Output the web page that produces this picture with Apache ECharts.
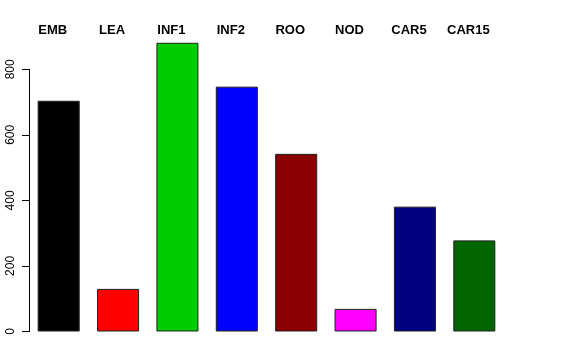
<!DOCTYPE html>
<html>
<head>
<meta charset="utf-8">
<script src="https://cdn.jsdelivr.net/npm/echarts@6/dist/echarts.min.js"></script>
<style>
html,body{margin:0;padding:0;background:#fff;}
#c{width:576px;height:360px;}
</style>
</head>
<body>
<div id="c"></div>
<script>
const categories = ['EMB', 'LEA', 'INF1', 'INF2', 'ROO', 'NOD', 'CAR5', 'CAR15'];
const values = [704, 130, 881, 747, 542, 69, 381, 278];
const yTicks = [0, 200, 400, 600, 800];
const barColors = ['#000000', '#FF0000', '#00CD00', '#0000FF', '#8B0000', '#FF00FF', '#000080', '#006400'];

const chart = echarts.init(document.getElementById('c'), null, {renderer: 'canvas'});
const font = 'Liberation Sans, Arial, Helvetica, sans-serif';
chart.setOption({
  animation: false,
  backgroundColor: '#ffffff',
  grid: {left: 29, top: 69.3, width: 475, height: 262.2, containLabel: false},
  xAxis: [{
    type: 'category',
    data: categories,
    position: 'bottom',
    axisLine: {show: false},
    axisTick: {show: false},
    axisLabel: {show: false},
    splitLine: {show: false}
  }, {
    type: 'category',
    data: categories,
    position: 'top',
    axisLine: {show: false},
    axisTick: {show: false},
    splitLine: {show: false},
    axisLabel: {
      show: true,
      interval: 0,
      margin: 32,
      color: '#000',
      fontFamily: font,
      fontWeight: 'bold',
      fontSize: 13,
      padding: [0, 12, 0, 0]
    }
  }],
  yAxis: {
    type: 'value',
    min: yTicks[0],
    max: yTicks[yTicks.length - 1],
    interval: 200,
    axisLine: {show: true, lineStyle: {color: '#000', width: 1}},
    axisTick: {show: true, length: 7, lineStyle: {color: '#000', width: 1}},
    splitLine: {show: false},
    axisLabel: {
      rotate: 90,
      margin: 12,
      color: '#000',
      fontFamily: font,
      fontSize: 12
    }
  },
  series: [{
    type: 'bar',
    xAxisIndex: 0,
    clip: false,
    barCategoryGap: '29.2%',
    data: values.map((v, i) => ({
      value: v,
      itemStyle: {color: barColors[i], borderColor: '#222', borderWidth: 1}
    }))
  }]
});
</script>
</body>
</html>
